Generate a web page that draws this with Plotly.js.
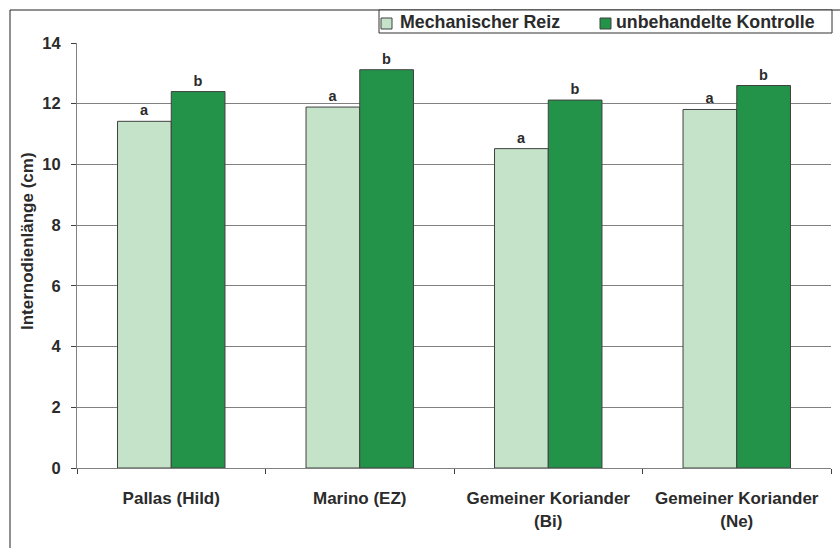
<!DOCTYPE html>
<html>
<head>
<meta charset="utf-8">
<script src="https://cdn.plot.ly/plotly-3.0.1.min.js"></script>
<style>html,body{margin:0;padding:0;background:#fff}#chart{width:840px;height:548px}</style>
</head>
<body>
<div id="chart"></div>
<script>
const categories = ['Pallas (Hild)', 'Marino (EZ)', 'Gemeiner Koriander<br>(Bi)', 'Gemeiner Koriander<br>(Ne)'];
const seriesNames = ['Mechanischer Reiz', 'unbehandelte Kontrolle'];
const mechanischerReiz = [11.42, 11.89, 10.52, 11.81];
const unbehandelteKontrolle = [12.40, 13.12, 12.12, 12.60];
const lettersReiz = ['a', 'a', 'a', 'a'];
const lettersKontrolle = ['b', 'b', 'b', 'b'];
const yTicks = [0, 2, 4, 6, 8, 10, 12, 14];

const FONT = 'Liberation Sans, Arial, sans-serif';
const TXT = '#2b2b2b';
const colors = ['#c4e3c9', '#24934a'];
const OUTLINE = '#404040';

const traces = [
  {
    type: 'bar', name: seriesNames[0], x: categories, y: mechanischerReiz,
    text: lettersReiz, textposition: 'outside', cliponaxis: false,
    textfont: {family: FONT, size: 14.5, color: TXT, weight: 'bold'},
    marker: {color: colors[0], line: {color: OUTLINE, width: 1}},
    hoverinfo: 'skip', showlegend: false
  },
  {
    type: 'bar', name: seriesNames[1], x: categories, y: unbehandelteKontrolle,
    text: lettersKontrolle, textposition: 'outside', cliponaxis: false,
    textfont: {family: FONT, size: 14.5, color: TXT, weight: 'bold'},
    marker: {color: colors[1], line: {color: OUTLINE, width: 1}},
    hoverinfo: 'skip', showlegend: false
  }
];

// pixel helpers for paper coordinates (plot area: x 77..831, y 43..468)
const PL = 77, PW = 754, PT = 43, PH = 425;
const px = v => (v - PL) / PW;
const py = v => (PT + PH - v) / PH;

// manual legend (box, swatches, labels)
const legendSwatchX = [381, 600];
const legendTextX = [398, 614];
const shapes = [
  {type: 'rect', xref: 'paper', yref: 'paper',
   x0: px(10), x1: px(860), y0: py(570), y1: py(10),
   line: {color: '#222222', width: 1}, layer: 'below'},
  {type: 'rect', xref: 'paper', yref: 'paper',
   x0: px(379), x1: px(832), y0: py(33), y1: py(10),
   line: {color: '#333333', width: 1}, fillcolor: '#ffffff', layer: 'above'}
];
const annotations = [
  {xref: 'paper', yref: 'paper', x: px(27), y: py(241), text: 'Internodienlänge (cm)',
   textangle: -90, showarrow: false, xanchor: 'center', yanchor: 'middle',
   font: {family: FONT, size: 17, color: TXT, weight: 'bold'}}
];
seriesNames.forEach((name, i) => {
  shapes.push({type: 'rect', xref: 'paper', yref: 'paper',
    x0: px(legendSwatchX[i]), x1: px(legendSwatchX[i] + 11), y0: py(29), y1: py(18),
    fillcolor: colors[i], line: {color: OUTLINE, width: 1}, layer: 'above'});
  annotations.push({xref: 'paper', yref: 'paper', x: px(legendTextX[i]), y: py(22),
    text: name, showarrow: false, xanchor: 'left', yanchor: 'middle',
    font: {family: FONT, size: 17.8, color: TXT, weight: 'bold'}});
});

const layout = {
  width: 840, height: 548,
  margin: {l: PL, r: 840 - PL - PW, t: PT, b: 548 - PT - PH},
  paper_bgcolor: '#ffffff', plot_bgcolor: '#ffffff',
  font: {family: FONT, size: 16, color: TXT, weight: 'bold'},
  barmode: 'group', bargap: 0.43, bargroupgap: 0,
  showlegend: false,
  xaxis: {
    type: 'category', tickson: 'boundaries', ticks: 'outside', ticklen: 5,
    tickcolor: '#404040', showline: true, linecolor: '#808080', linewidth: 1,
    showgrid: false, zeroline: false, ticklabelstandoff: 15,
    tickfont: {family: FONT, size: 17, color: TXT, weight: 'bold'}
  },
  yaxis: {
    range: [0, 14], tickvals: yTicks, ticktext: yTicks.map(String),
    ticks: 'outside', ticklen: 5, tickcolor: '#404040',
    showline: true, linecolor: '#808080', linewidth: 1,
    showgrid: true, gridcolor: '#808080', gridwidth: 1, zeroline: false,
    ticklabelstandoff: 7,
    tickfont: {family: FONT, size: 16.5, color: TXT, weight: 'bold'}
  },
  shapes: shapes,
  annotations: annotations
};

Plotly.newPlot('chart', traces, layout, {displayModeBar: false, staticPlot: true});
</script>
</body>
</html>
